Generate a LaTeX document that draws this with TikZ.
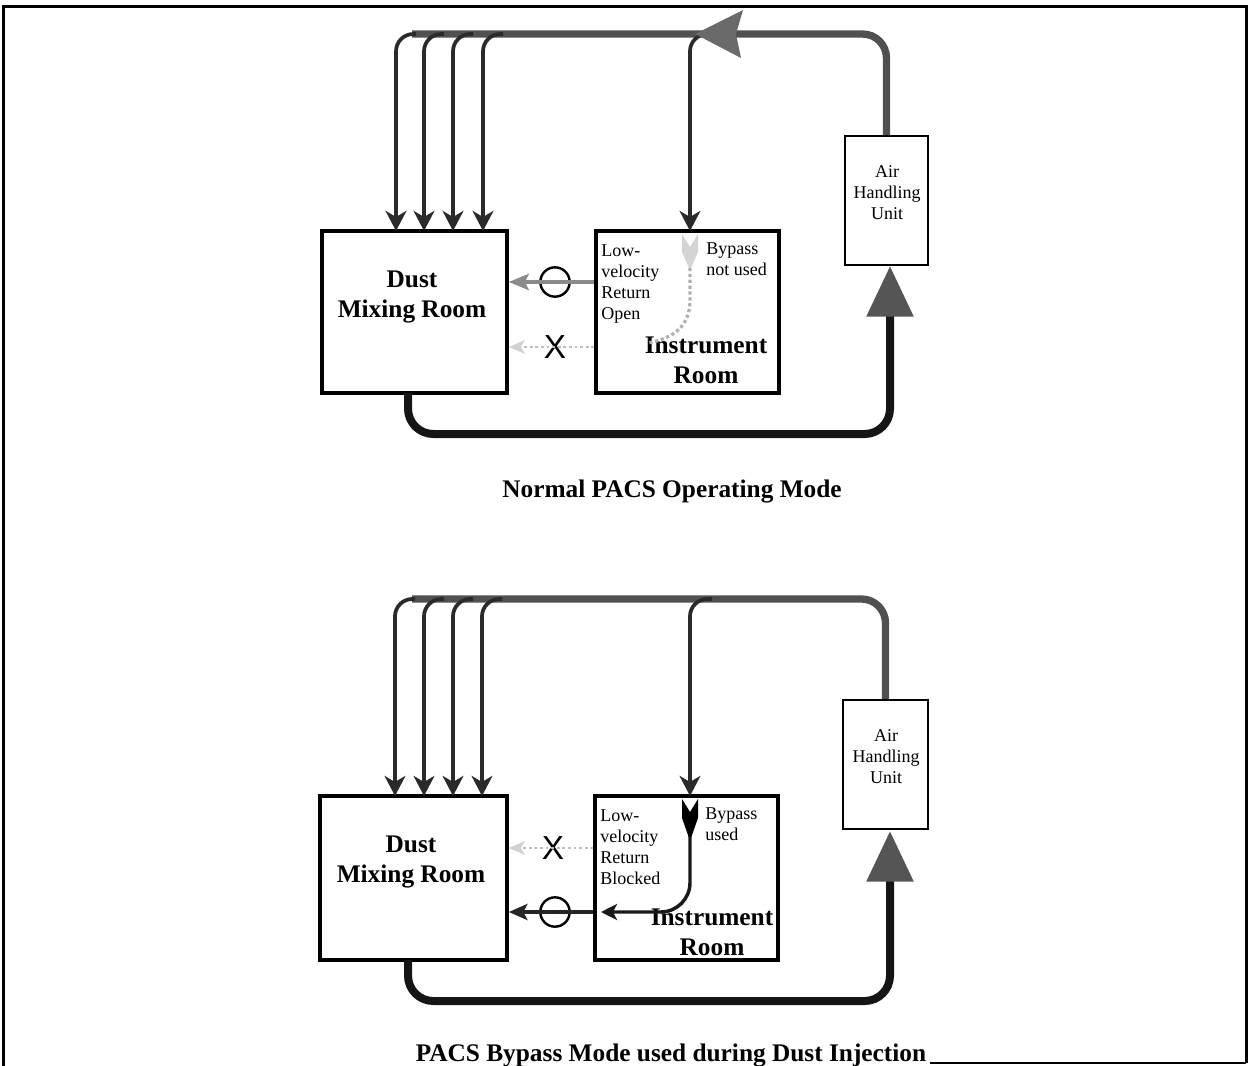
\documentclass[tikz,border=0pt]{standalone}
\usepackage{fontspec}
\setmainfont{Liberation Serif}
\newfontfamily\xfont{Liberation Sans}
\usetikzlibrary{arrows.meta}
\definecolor{duct}{HTML}{505050}
\definecolor{branchc}{HTML}{2a2a2a}
\definecolor{retc}{HTML}{151515}
\definecolor{tipgray}{HTML}{555555}
\definecolor{opengray}{HTML}{8a8a8a}
\definecolor{blockgray}{HTML}{bdbdbd}
\definecolor{offgray}{HTML}{b0b0b0}
\begin{document}
\begin{tikzpicture}[x=0.75pt,y=-0.75pt,
  roombox/.style={draw=black, line width=2.6pt, inner sep=0pt},
  ahubox/.style={draw=black, line width=1.6pt, inner sep=0pt, minimum width=62.5pt, minimum height=96.75pt},
  lbl/.style={font=\fontsize{13.5}{15.75}\selectfont, align=left, inner sep=0pt, anchor=north west},
  ahulbl/.style={font=\fontsize{13.5}{15.75}\selectfont, align=center, inner sep=0pt, anchor=north},
  biglbl/.style={font=\fontsize{19}{22}\selectfont\bfseries, align=center, inner sep=0pt, anchor=north},
  captionlbl/.style={font=\fontsize{19}{22}\selectfont\bfseries, inner sep=0pt, anchor=base},
  ductline/.style={draw=duct, line width=5.5pt, rounded corners=18pt},
  branch/.style={draw=branchc, line width=2.8pt, rounded corners=13pt, -{Stealth[length=15pt,width=15.5pt,inset=4.5pt]}},
  retline/.style={draw=retc, line width=6pt, rounded corners=19pt, -{Triangle[length=38pt,width=34pt,color=tipgray]}},
  openret/.style={draw=opengray, line width=3pt, -{Stealth[length=15pt,width=12pt,inset=3pt]}},
  openon/.style={draw=black!85, line width=2.6pt, -{Stealth[length=14pt,width=12pt,inset=3pt]}},
  blocked/.style={draw=blockgray, line width=2.2pt, dotted, -{Stealth[length=12pt,width=10pt,inset=3pt,color=blockgray!70]}},
  bypassoff/.style={draw=offgray, line width=2.4pt, dotted},
  bypasson/.style={draw=black!90, line width=2.6pt, rounded corners=22pt, -{Stealth[length=12pt,width=12pt,inset=3pt]}},
  valve/.style={circle, draw=black, line width=1.8pt, minimum size=22pt, inner sep=0pt},
  xmark/.style={font=\xfont\fontsize{25}{25}\selectfont, inner sep=0pt, text=black}
]
\useasboundingbox (0,0) rectangle (1249,1066);
% frame
\draw[line width=2.25pt] (3,1066) -- (3,7) -- (1246,7) -- (1246,1063);
\draw[line width=1.6pt] (1246,1063) -- (930,1063);

% ================= TOP: Normal mode =================
\node[roombox, minimum width=138.75pt, minimum height=121.5pt] (dmr1) at (414.5,312) {};
\node[roombox, minimum width=137.25pt, minimum height=121.5pt] (ir1) at (687.5,312) {};
\node[ahubox] (ahu1) at (886.5,200.5) {};
\node[biglbl] (dmr1t) at (412,271) {Dust\\Mixing Room};
\node[biglbl] (ir1t) at (706,337) {Instrument\\Room};
\node[ahulbl] (ahu1t) at (887,165) {Air\\Handling\\Unit};
\node[lbl] (lv1) at (601,244) {Low-\\velocity\\Return\\Open};
\node[lbl] (bp1) at (706,242) {Bypass\\not used};

% supply duct
\coordinate (d1end) at (412,34);
\draw[ductline] (ahu1.north) |- (d1end);
\foreach \i/\bx in {1/396,2/424,3/453,4/483}{
  \coordinate (s1\i) at (\bx+20,34);
  \coordinate (t1\i) at (\bx,231);
  \draw[branch] (s1\i) -| (t1\i);
}
\coordinate (s1ir) at (712,34);
\coordinate (t1ir) at (690,231);
\draw[branch] (s1ir) -| (t1ir);
% big flow arrowhead on duct
\fill[duct!85!white] (695,34) -- (743,10) -- (736,34) -- (741,58) -- cycle;

% return duct
\coordinate (r1s) at (408,393);
\coordinate (r1e) at (890,266);
\draw[retline] (r1s) -- ++(0,41) -| (r1e);

% bypass not used (faint)
\fill[offgray!55] (682,234) -- (690,247) -- (698,234) -- (698,252) -- (691,268) -- (689,268) -- (682,252) -- cycle;
\coordinate (bp1a) at (690,268);
\coordinate (bp1b) at (648,343);
\draw[bypassoff] (bp1a) -- ++(0,32) .. controls (690,326) and (674,338) .. (bp1b);

% low-velocity return open
\node[valve] (c1) at (555,282) {};
\draw[openret] (ir1.west |- c1) -- (dmr1.east |- c1);
% blocked path
\node[xmark] (x1) at (555,347) {X};
\draw[blocked] (ir1.west |- x1) -- (dmr1.east |- x1);

\node[captionlbl] (cap1) at (672,497) {Normal PACS Operating Mode};

% ================= BOTTOM: Bypass mode =================
\node[roombox, minimum width=140.25pt, minimum height=123pt] (dmr2) at (413.5,878) {};
\node[roombox, minimum width=137.25pt, minimum height=123pt] (ir2) at (686.5,878) {};
\node[ahubox, minimum width=63.75pt] (ahu2) at (885.5,764.5) {};
\node[biglbl] (dmr2t) at (411,836) {Dust\\Mixing Room};
\node[biglbl] (ir2t) at (712,909) {Instrument\\Room};
\node[ahulbl] (ahu2t) at (886,729) {Air\\Handling\\Unit};
\node[lbl] (lv2) at (600,809) {Low-\\velocity\\Return\\Blocked};
\node[lbl] (bp2) at (705,807) {Bypass\\used};

\coordinate (d2end) at (412,599);
\draw[ductline] (ahu2.north) |- (d2end);
\foreach \i/\bx in {1/395,2/424,3/453,4/482}{
  \coordinate (s2\i) at (\bx+20,599);
  \coordinate (t2\i) at (\bx,796);
  \draw[branch] (s2\i) -| (t2\i);
}
\coordinate (s2ir) at (712,599);
\coordinate (t2ir) at (690,796);
\draw[branch] (s2ir) -| (t2ir);

\coordinate (r2s) at (408,960);
\coordinate (r2e) at (890,831);
\draw[retline] (r2s) -- ++(0,41) -| (r2e);

% bypass used
\fill[black] (682,799) -- (690,812) -- (698,799) -- (698,818) -- (691,838) -- (689,838) -- (682,818) -- cycle;
\coordinate (bp2a) at (690,836);
\coordinate (bp2b) at (601,912);
\draw[bypasson] (bp2a) |- (bp2b);

\node[valve] (c2) at (555,912) {};
\draw[openon] (ir2.west |- c2) -- (dmr2.east |- c2);
\node[xmark] (x2) at (553,848) {X};
\draw[blocked] (ir2.west |- x2) -- (dmr2.east |- x2);

\node[captionlbl] (cap2) at (671,1061) {PACS Bypass Mode used during Dust Injection};
\end{tikzpicture}
\end{document}
